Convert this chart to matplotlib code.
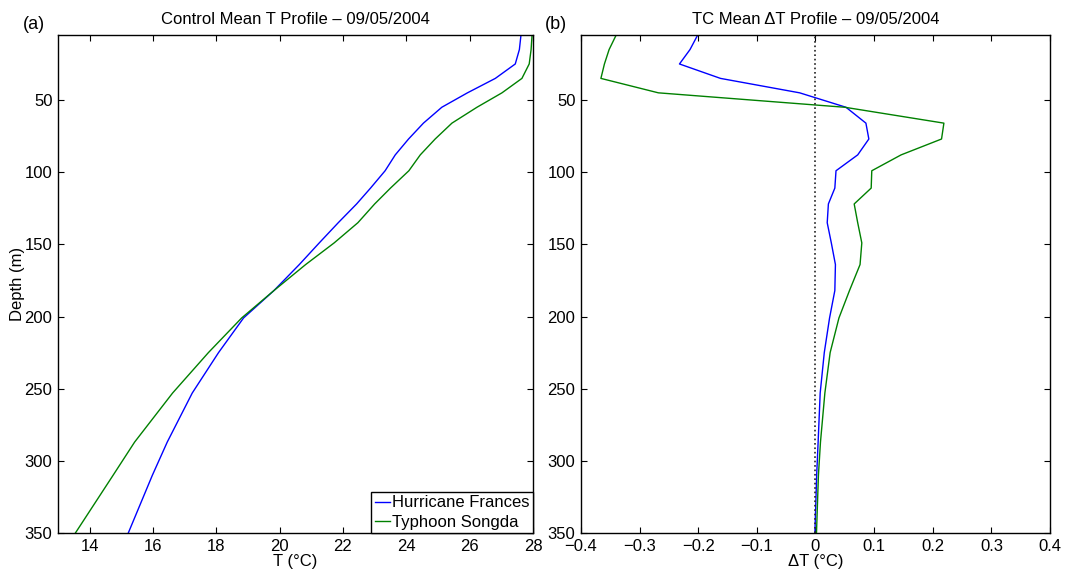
import numpy as np
import matplotlib
import matplotlib.pyplot as plt

matplotlib.use('agg')

plt.rcParams['font.family'] = ['Liberation Sans', 'DejaVu Sans']
plt.rcParams['font.size'] = 12

# model depth levels (m)
depth = [5, 15, 25, 35, 45, 55, 66, 77, 88, 99, 111, 122, 135, 149, 164,
         182, 201, 225, 253, 287, 310, 350]

# control mean temperature (deg C)
t_frances = [27.62, 27.57, 27.44, 26.81, 25.93, 25.12, 24.54, 24.07, 23.65, 23.33,
             22.87, 22.43, 21.85, 21.25, 20.62, 19.82, 18.86, 18.07, 17.24, 16.45,
             15.98, 15.22]
t_songda = [27.97, 27.94, 27.88, 27.65, 27.02, 26.23, 25.44, 24.91, 24.44, 24.08,
            23.50, 23.00, 22.47, 21.72, 20.82, 19.82, 18.80, 17.75, 16.62, 15.42,
            14.74, 13.55]

# mean TC induced change (deg C)
dt_frances = [-0.201, -0.214, -0.232, -0.162, -0.027, 0.052, 0.086, 0.091, 0.072, 0.035,
              0.033, 0.022, 0.020, 0.027, 0.034, 0.033, 0.024, 0.015, 0.008, 0.0045,
              0.002, -0.001]
dt_songda = [-0.340, -0.352, -0.360, -0.366, -0.268, 0.050, 0.219, 0.215, 0.146, 0.096,
             0.095, 0.066, 0.072, 0.079, 0.076, 0.058, 0.040, 0.025, 0.016, 0.0085,
             0.005, 0.0017]

names = ['Hurricane Frances', 'Typhoon Songda']
t_ticks = [14, 16, 18, 20, 22, 24, 26, 28]
dt_ticks = [-0.4, -0.3, -0.2, -0.1, 0, 0.1, 0.2, 0.3, 0.4]
dt_labels = ['\u22120.4', '\u22120.3', '\u22120.2', '\u22120.1', '0', '0.1', '0.2', '0.3', '0.4']
depth_ticks = [50, 100, 150, 200, 250, 300, 350]

blue = (0, 0, 1)
green = (0, 0.5, 0)

fig = plt.figure(figsize=(10.66, 5.69), dpi=100)
ax1 = fig.add_axes([0.0544, 0.0633, 0.4456, 0.875])
ax2 = fig.add_axes([0.545, 0.0633, 0.440, 0.875])


def style(ax):
    for s in ax.spines.values():
        s.set_linewidth(1.0)
    ax.tick_params(direction='in', top=True, right=True, length=4, width=0.8, pad=4)
    ax.set_yticks(depth_ticks)
    ax.set_ylim(350, 5)


ax1.plot(t_frances, depth, color=blue, lw=1, label=names[0])
ax1.plot(t_songda, depth, color=green, lw=1, label=names[1])
style(ax1)
ax1.set_xlim(13, 28)
ax1.set_xticks(t_ticks)
ax1.set_xlabel('T (\u00b0C)', labelpad=0)
ax1.set_ylabel('Depth (m)', labelpad=0)
ax1.set_title('Control Mean T Profile \u2013 09/05/2004', fontsize=12, pad=8)
leg = ax1.legend(loc='lower right', borderaxespad=0, fancybox=False, framealpha=1,
                 edgecolor='black', handlelength=0.9, handletextpad=0.15,
                 borderpad=0.2, labelspacing=0.25, fontsize=12)
leg.get_frame().set_linewidth(1.0)

ax2.plot(dt_frances, depth, color=blue, lw=1)
ax2.plot(dt_songda, depth, color=green, lw=1)
ax2.axvline(0, color='#222222', lw=1.2, ls=':')
style(ax2)
ax2.set_xlim(-0.4, 0.4)
ax2.set_xticks(dt_ticks)
ax2.set_xticklabels(dt_labels)
ax2.set_xlabel('\u0394T (\u00b0C)', labelpad=0)
ax2.set_title('TC Mean \u0394T Profile \u2013 09/05/2004', fontsize=12, pad=8)

fig.text(0.021, 0.972, '(a)', fontsize=13, va='top')
fig.text(0.511, 0.972, '(b)', fontsize=13, va='top')

fig.savefig('out.png', dpi=100, facecolor='white')
